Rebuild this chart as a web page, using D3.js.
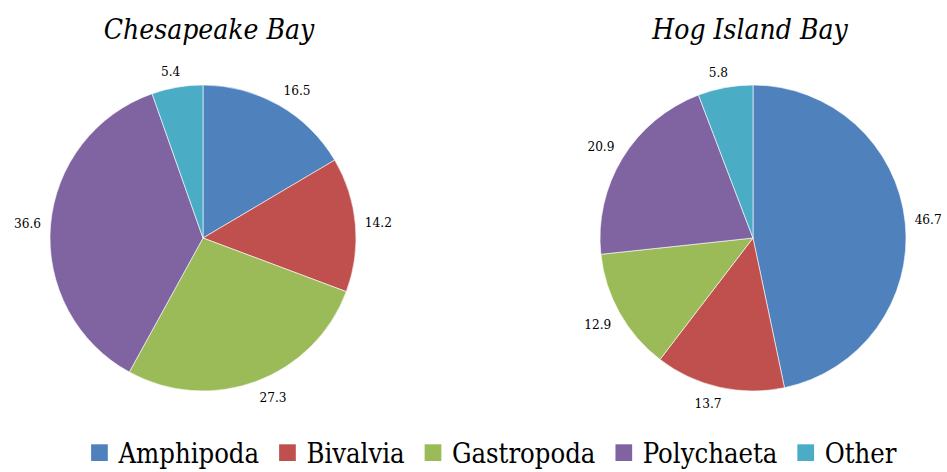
<!DOCTYPE html>
<html>
<head>
<meta charset="utf-8">
<script src="https://cdn.jsdelivr.net/npm/d3@7"></script>
<style>
  html, body { margin: 0; padding: 0; background: #ffffff; }
  svg { display: block; }
  .serif { font-family: "DejaVu Serif Condensed", "DejaVu Serif", serif; }
</style>
</head>
<body>
<svg id="chart" width="947" height="472"></svg>
<script>
const categories = ["Amphipoda", "Bivalvia", "Gastropoda", "Polychaeta", "Other"];
const colors = ["#4F81BD", "#C0504D", "#9BBB59", "#8064A2", "#4BACC6"];
const chesapeakeValues = [16.5, 14.2, 27.3, 36.6, 5.4];
const hogIslandValues = [46.7, 13.7, 12.9, 20.9, 5.8];
const titles = ["Chesapeake Bay", "Hog Island Bay"];

const svg = d3.select("#chart");

const panels = [
  { title: titles[0], values: chesapeakeValues, cx: 203, cy: 238, tx: 209 },
  { title: titles[1], values: hogIslandValues, cx: 753, cy: 238, tx: 750 }
];

const radius = 153;
const labelGap = 9.5;
const labelFs = 13.5;
const labelH = 13;
const titleFs = 28;
const pie = d3.pie().sort(null).value(d => d.v);
const arc = d3.arc().innerRadius(0).outerRadius(radius);
const color = d3.scaleOrdinal().domain(categories).range(colors);
const clamp = v => Math.max(-1, Math.min(1, v));

panels.forEach(p => {
  const data = categories.map((c, i) => ({ c, v: p.values[i] }));
  const g = svg.append("g").attr("transform", `translate(${p.cx},${p.cy})`);
  const arcs = pie(data);

  g.selectAll("path.slice")
    .data(arcs)
    .join("path")
    .attr("class", "slice")
    .attr("d", arc)
    .attr("fill", d => color(d.data.c))
    .attr("stroke", "#ffffff")
    .attr("stroke-width", 0.6);

  const labels = g.selectAll("text.lbl")
    .data(arcs)
    .join("text")
    .attr("class", "lbl serif")
    .style("font-size", labelFs + "px")
    .attr("fill", "#000")
    .attr("text-anchor", "middle")
    .text(d => d3.format(".1f")(d.data.v));

  labels.each(function(d) {
    const w = this.getComputedTextLength();
    const a = (d.startAngle + d.endAngle) / 2;
    const s = Math.sin(a), c = Math.cos(a);
    const px = s * (radius + labelGap);
    const py = -c * (radius + labelGap);
    const bx = px + clamp(3 * s) * w / 2;
    const by = py - clamp(3 * c) * labelH / 2;
    d3.select(this).attr("x", bx).attr("y", by + 0.36 * labelFs);
  });

  svg.append("text")
    .attr("class", "serif")
    .attr("x", p.tx)
    .attr("y", 38.5)
    .attr("text-anchor", "middle")
    .style("font-style", "italic")
    .style("font-size", titleFs + "px")
    .attr("fill", "#000")
    .text(p.title);
});

// Legend
const legFs = 27.2;
const sq = 16.7;
const sqGap = 10.6;
const itemGap = 20;
const legBaseline = 463.3;
const legend = svg.append("g");
const items = legend.selectAll("g.item")
  .data(categories)
  .join("g")
  .attr("class", "item");

items.append("rect")
  .attr("width", sq)
  .attr("height", sq)
  .attr("y", legBaseline - 19)
  .attr("fill", d => color(d));

items.append("text")
  .attr("class", "serif")
  .attr("x", sq + sqGap)
  .attr("y", legBaseline)
  .style("font-size", legFs + "px")
  .attr("fill", "#000")
  .text(d => d);

let xpos = 0;
const offsets = [];
items.each(function() {
  const tw = d3.select(this).select("text").node().getComputedTextLength();
  offsets.push(xpos);
  xpos += sq + sqGap + tw + itemGap;
});
const total = xpos - itemGap;
const legCenter = 493.8;
const start = legCenter - total / 2;
items.attr("transform", (d, i) => `translate(${start + offsets[i]},0)`);
</script>
</body>
</html>
